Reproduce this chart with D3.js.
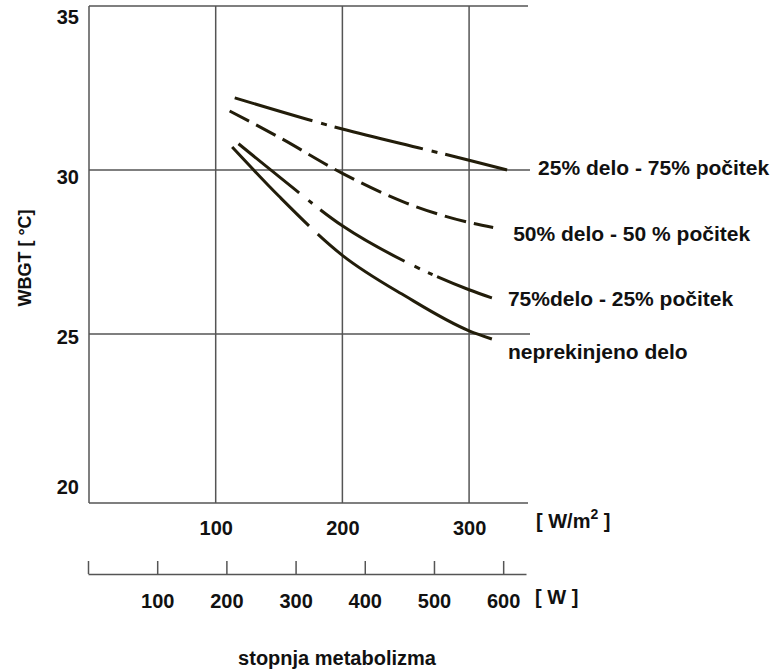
<!DOCTYPE html>
<html>
<head>
<meta charset="utf-8">
<script src="https://cdn.jsdelivr.net/npm/d3@7"></script>
<style>
  html, body { margin: 0; padding: 0; background: #fff; }
  svg { display: block; font-family: "Liberation Sans", Arial, sans-serif; }
  .lbl { font-size: 20px; font-weight: bold; fill: #111; }
  .legend { font-size: 21px; }
  .grid { stroke: #555; stroke-width: 1.5; fill: none; }
  .curve { fill: none; stroke: #221d0a; stroke-width: 3; }
</style>
</head>
<body>
<div id="chart"></div>
<script>
'use strict';

// metabolic rate ticks
const wm2Ticks = [100, 200, 300];        // W/m2
const wTicks = [0, 100, 200, 300, 400, 500, 600]; // W
const wbgtTicks = [35, 30, 25, 20];

// curves: x in W/m2, y in WBGT (°C)
const seriesNames = [
  '25% delo - 75% počitek',
  '50% delo - 50 % počitek',
  '75%delo - 25% počitek',
  'neprekinjeno delo'
];
const rate25 = [115, 200, 264, 300, 330];
const wbgt25 = [32.2, 31.25, 30.64, 30.3, 30.0];
const rate50 = [111, 150, 200, 250, 300, 319];
const wbgt50 = [31.8, 31.0, 29.9, 29.0, 28.4, 28.25];
const rate75 = [118, 150, 200, 250, 300, 318];
const wbgt75 = [30.8, 29.8, 28.3, 27.2, 26.35, 26.1];
const rate100 = [113, 150, 200, 250, 300, 318];
const wbgt100 = [30.7, 29.2, 27.4, 26.15, 25.1, 24.85];

// line styles (hand drawn dash patterns) and label offsets from curve end
const dashes = [
  '81,9,6,8,91,9,6,8,200',
  '22,8',
  '78,12,5,10,99,11,6,9,5,5,200',
  '110,12,400'
];
const labelOffset = [[31, 5], [20, 14], [16, 8], [16, 20]];
const wbgtLabelShift = [11, 7, 3, -11];

const width = 776, height = 669;

let svg = d3.select('#chart').append('svg')
    .attr('width', width)
    .attr('height', height);

let x = d3.scaleLinear().domain([0, 346.5]).range([89, 528]);
let y = d3.scaleLinear().domain([19.85, 35]).range([503, 6]);
let xw = d3.scaleLinear().domain([0, 633]).range([88, 526]);

// grid
let grid = svg.append('g');
wm2Ticks.forEach(function(v) {
  grid.append('line').attr('class', 'grid')
      .attr('x1', x(v)).attr('x2', x(v))
      .attr('y1', y(35)).attr('y2', y(19.85));
});
[35, 30, 25].forEach(function(v) {
  grid.append('line').attr('class', 'grid')
      .attr('x1', x(0)).attr('x2', x(346.5) + (v === 35 ? 0 : 2))
      .attr('y1', y(v)).attr('y2', y(v));
});
// left + bottom frame
grid.append('line').attr('class', 'grid')
    .attr('x1', x(0)).attr('x2', x(0)).attr('y1', y(35)).attr('y2', y(19.85));
grid.append('line').attr('class', 'grid')
    .attr('x1', x(0)).attr('x2', x(346.5)).attr('y1', y(19.85)).attr('y2', y(19.85));

// WBGT tick labels
svg.append('g').selectAll('text')
    .data(wbgtTicks)
    .join('text')
    .attr('class', 'lbl')
    .attr('text-anchor', 'end')
    .attr('x', 79)
    .attr('y', (d, i) => y(d) + wbgtLabelShift[i])
    .attr('dy', '0.35em')
    .text(d => d);

svg.append('text')
    .attr('class', 'lbl')
    .style('font-size', '18px')
    .attr('text-anchor', 'middle')
    .attr('transform', 'translate(31,258) rotate(-90)')
    .text('WBGT [ °C]');

// W/m2 axis labels
let xAxis = d3.axisBottom(x).tickValues(wm2Ticks).tickSize(0).tickPadding(18);
let gx = svg.append('g')
    .attr('transform', 'translate(0,' + y(19.85) + ')')
    .call(xAxis);
gx.select('.domain').remove();
gx.selectAll('text').attr('class', 'lbl').attr('fill', null);

let unitA = svg.append('text').attr('class', 'lbl')
    .attr('x', 536).attr('y', 528);
unitA.append('tspan').text('[ W/m');
unitA.append('tspan').attr('dy', -9).style('font-size', '14px').text('2');
unitA.append('tspan').attr('dy', 9).text(' ]');

// W axis
let wAxis = d3.axisBottom(xw)
    .tickValues(wTicks)
    .tickSize(-13)
    .tickSizeOuter(0)
    .tickPadding(20)
    .tickFormat(d => d === 0 ? '' : d);
let gw = svg.append('g')
    .attr('transform', 'translate(0,574)')
    .call(wAxis);
gw.select('.domain').attr('stroke', '#555').attr('stroke-width', 1.5);
gw.selectAll('.tick line').attr('stroke', '#555').attr('stroke-width', 1.5);
gw.selectAll('text').attr('class', 'lbl').attr('fill', null);

svg.append('text').attr('class', 'lbl')
    .attr('x', 535).attr('y', 604)
    .text('[ W ]');

svg.append('text').attr('class', 'lbl')
    .attr('x', 337).attr('y', 665)
    .attr('text-anchor', 'middle')
    .text('stopnja metabolizma');

// curves
let series = [
  d3.zip(rate25, wbgt25),
  d3.zip(rate50, wbgt50),
  d3.zip(rate75, wbgt75),
  d3.zip(rate100, wbgt100)
];

let line = d3.line()
    .x(d => x(d[0]))
    .y(d => y(d[1]))
    .curve(d3.curveMonotoneX);

svg.append('g').selectAll('path')
    .data(series)
    .join('path')
    .attr('class', 'curve')
    .attr('stroke-dasharray', (d, i) => dashes[i])
    .attr('d', line);

svg.append('g').selectAll('text')
    .data(series)
    .join('text')
    .attr('class', 'lbl legend')
    .attr('x', (d, i) => x(d[d.length - 1][0]) + labelOffset[i][0])
    .attr('y', (d, i) => y(d[d.length - 1][1]) + labelOffset[i][1])
    .text((d, i) => seriesNames[i]);
</script>
</body>
</html>
